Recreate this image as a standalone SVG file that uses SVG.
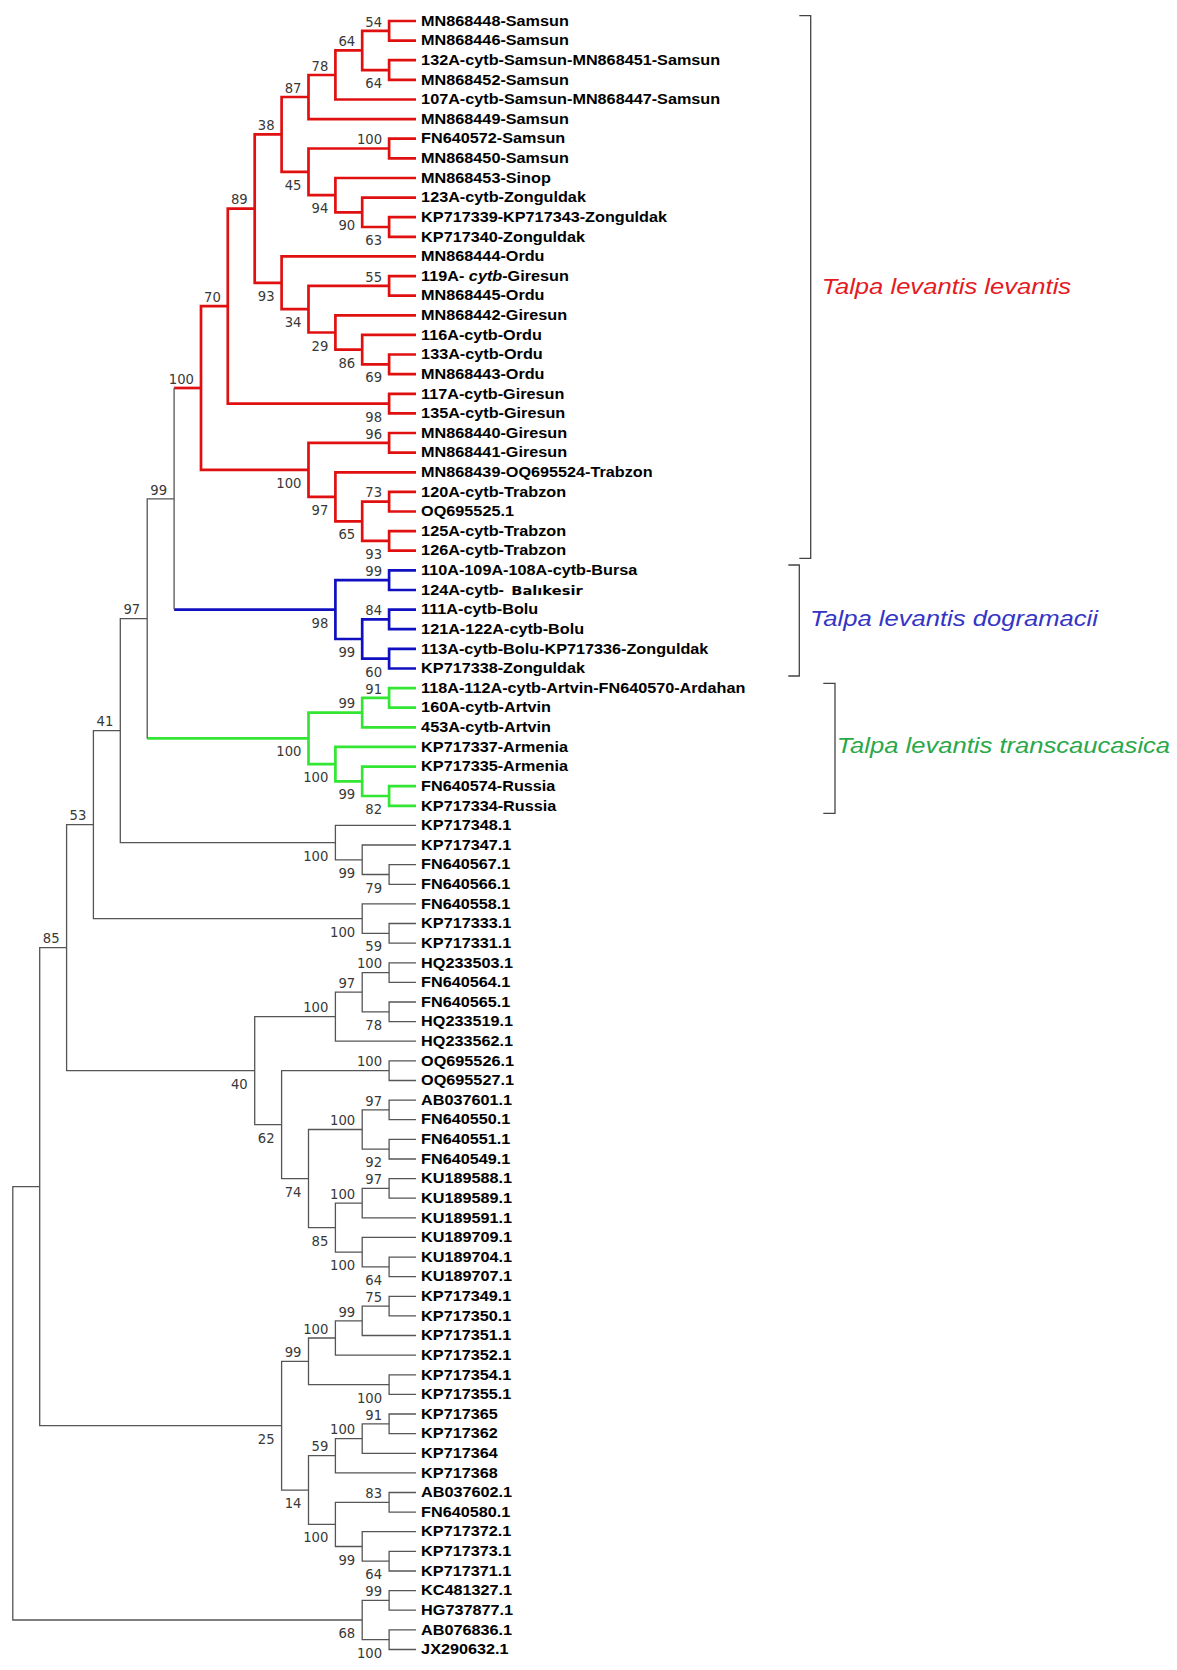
<svg xmlns="http://www.w3.org/2000/svg" width="1177" height="1670" viewBox="0 0 1177 1670">
<style>
.r{stroke:#e01010;stroke-width:2.7;fill:none}
.b{stroke:#1010c0;stroke-width:2.7;fill:none}
.g{stroke:#33e633;stroke-width:2.7;fill:none}
.k{stroke:#555;stroke-width:1.3;fill:none}
.br{stroke:#444;stroke-width:1.3;fill:none}
.lf{font-family:"Liberation Sans",Arial,sans-serif;font-weight:bold;font-size:13.8px;fill:#000}
.bs{font-family:"DejaVu Sans",Verdana,sans-serif;font-size:13.2px;fill:#383838;text-anchor:end}
.cl{font-family:"Liberation Sans",Arial,sans-serif;font-style:italic;font-size:21.8px}
</style>
<rect width="1177" height="1670" fill="#fff"/>
<g id="connectors">
<g class="r">
<path d="M416 21H389.1V40.6H416"/>
<path d="M416 60.2H389.1V79.9H416"/>
<path d="M389.1 30.8H362.2V70.1H389.1"/>
<path d="M362.2 50.4H335.4V99.5H416"/>
<path d="M335.4 75H308.5V119.1H416"/>
<path d="M416 138.7H389.1V158.3H416"/>
<path d="M416 217.2H389.1V236.8H416"/>
<path d="M416 197.6H362.2V227H389.1"/>
<path d="M416 178H335.4V212.3H362.2"/>
<path d="M389.1 148.5H308.5V195.1H335.4"/>
<path d="M308.5 97H281.6V171.8H308.5"/>
<path d="M416 276.1H389.1V295.7H416"/>
<path d="M416 354.5H389.1V374.2H416"/>
<path d="M416 334.9H362.2V364.4H389.1"/>
<path d="M416 315.3H335.4V349.6H362.2"/>
<path d="M389.1 285.9H308.5V332.5H335.4"/>
<path d="M416 256.4H281.6V309.2H308.5"/>
<path d="M281.6 134.4H254.7V282.8H281.6"/>
<path d="M416 393.8H389.1V413.4H416"/>
<path d="M254.7 208.6H227.8V403.6H389.1"/>
<path d="M416 433H389.1V452.6H416"/>
<path d="M416 491.9H389.1V511.5H416"/>
<path d="M416 531.1H389.1V550.7H416"/>
<path d="M389.1 501.7H362.2V540.9H389.1"/>
<path d="M416 472.3H335.4V521.3H362.2"/>
<path d="M389.1 442.8H308.5V496.8H335.4"/>
<path d="M227.8 306.1H201V469.8H308.5"/>
<path d="M174.1 388H201"/>
</g>
<g class="b">
<path d="M416 570.4H389.1V590H416"/>
<path d="M416 609.6H389.1V629.2H416"/>
<path d="M416 648.8H389.1V668.5H416"/>
<path d="M389.1 619.4H362.2V658.7H389.1"/>
<path d="M389.1 580.2H335.4V639H362.2"/>
<path d="M174.1 609.6H335.4"/>
</g>
<g class="g">
<path d="M416 688.1H389.1V707.7H416"/>
<path d="M389.1 697.9H362.2V727.3H416"/>
<path d="M416 786.2H389.1V805.8H416"/>
<path d="M416 766.6H362.2V796H389.1"/>
<path d="M416 746.9H335.4V781.3H362.2"/>
<path d="M362.2 712.6H308.5V764.1H335.4"/>
<path d="M147.2 738.4H308.5"/>
</g>
<g class="k">
<path d="M174.1 388V609.6"/>
<path d="M174.1 498.8H147.2V738.4"/>
<path d="M416 864.7H389.1V884.3H416"/>
<path d="M416 845H362.2V874.5H389.1"/>
<path d="M416 825.4H335.4V859.8H362.2"/>
<path d="M147.2 618.6H120.3V842.6H335.4"/>
<path d="M416 923.5H389.1V943.1H416"/>
<path d="M416 903.9H362.2V933.3H389.1"/>
<path d="M120.3 730.6H93.4V918.6H362.2"/>
<path d="M416 962.8H389.1V982.4H416"/>
<path d="M416 1002H389.1V1021.6H416"/>
<path d="M389.1 972.6H362.2V1011.8H389.1"/>
<path d="M362.2 992.2H335.4V1041.2H416"/>
<path d="M416 1060.9H389.1V1080.5H416"/>
<path d="M416 1100.1H389.1V1119.7H416"/>
<path d="M416 1139.3H389.1V1159H416"/>
<path d="M389.1 1109.9H362.2V1149.2H389.1"/>
<path d="M416 1178.6H389.1V1198.2H416"/>
<path d="M389.1 1188.4H362.2V1217.8H416"/>
<path d="M416 1257.1H389.1V1276.7H416"/>
<path d="M416 1237.4H362.2V1266.9H389.1"/>
<path d="M362.2 1203.1H335.4V1252.2H362.2"/>
<path d="M362.2 1129.5H308.5V1227.6H335.4"/>
<path d="M389.1 1070.7H281.6V1178.6H308.5"/>
<path d="M335.4 1016.7H254.7V1124.6H281.6"/>
<path d="M93.4 824.6H66.6V1070.7H254.7"/>
<path d="M416 1296.3H389.1V1315.9H416"/>
<path d="M389.1 1306.1H362.2V1335.5H416"/>
<path d="M362.2 1320.8H335.4V1355.2H416"/>
<path d="M416 1374.8H389.1V1394.4H416"/>
<path d="M335.4 1338H308.5V1384.6H389.1"/>
<path d="M416 1414H389.1V1433.6H416"/>
<path d="M389.1 1423.8H362.2V1453.3H416"/>
<path d="M362.2 1438.6H335.4V1472.9H416"/>
<path d="M416 1492.5H389.1V1512.1H416"/>
<path d="M416 1551.4H389.1V1571H416"/>
<path d="M416 1531.7H362.2V1561.2H389.1"/>
<path d="M389.1 1502.3H335.4V1546.5H362.2"/>
<path d="M335.4 1455.7H308.5V1524.4H335.4"/>
<path d="M308.5 1361.3H281.6V1490.1H308.5"/>
<path d="M66.6 947.6H39.7V1425.7H281.6"/>
<path d="M416 1590.6H389.1V1610.2H416"/>
<path d="M416 1629.8H389.1V1649.5H416"/>
<path d="M389.1 1600.4H362.2V1639.7H389.1"/>
<path d="M39.7 1186.7H12.8V1620H362.2"/>
</g>
<g class="br">
<path d="M799.3 15.7H810.7V558.3H799.3"/>
<path d="M788.3 565H799.3V676H788.3"/>
<path d="M823.3 683.3H835V813.3H823.3"/>
</g>
</g>
<g id="leaves" transform="scale(1.175 1)" class="lf">
<g id="n1"><text x="358.4" y="25.8">MN868448-Samsun</text></g>
<g id="n2"><text x="358.4" y="45.4">MN868446-Samsun</text></g>
<g id="n3"><text x="358.4" y="65">132A-cytb-Samsun-MN868451-Samsun</text></g>
<g id="n4"><text x="358.4" y="84.7">MN868452-Samsun</text></g>
<g id="n5"><text x="358.4" y="104.3">107A-cytb-Samsun-MN868447-Samsun</text></g>
<g id="n6"><text x="358.4" y="123.9">MN868449-Samsun</text></g>
<g id="n7"><text x="358.4" y="143.5">FN640572-Samsun</text></g>
<g id="n8"><text x="358.4" y="163.1">MN868450-Samsun</text></g>
<g id="n9"><text x="358.4" y="182.8">MN868453-Sinop</text></g>
<g id="n10"><text x="358.4" y="202.4">123A-cytb-Zonguldak</text></g>
<g id="n11"><text x="358.4" y="222">KP717339-KP717343-Zonguldak</text></g>
<g id="n12"><text x="358.4" y="241.6">KP717340-Zonguldak</text></g>
<g id="n13"><text x="358.4" y="261.2">MN868444-Ordu</text></g>
<g id="n14"><text x="358.4" y="280.9">119A- <tspan font-style="italic">cytb</tspan>-Giresun</text></g>
<g id="n15"><text x="358.4" y="300.5">MN868445-Ordu</text></g>
<g id="n16"><text x="358.4" y="320.1">MN868442-Giresun</text></g>
<g id="n17"><text x="358.4" y="339.7">116A-cytb-Ordu</text></g>
<g id="n18"><text x="358.4" y="359.3">133A-cytb-Ordu</text></g>
<g id="n19"><text x="358.4" y="379">MN868443-Ordu</text></g>
<g id="n20"><text x="358.4" y="398.6">117A-cytb-Giresun</text></g>
<g id="n21"><text x="358.4" y="418.2">135A-cytb-Giresun</text></g>
<g id="n22"><text x="358.4" y="437.8">MN868440-Giresun</text></g>
<g id="n23"><text x="358.4" y="457.4">MN868441-Giresun</text></g>
<g id="n24"><text x="358.4" y="477.1">MN868439-OQ695524-Trabzon</text></g>
<g id="n25"><text x="358.4" y="496.7">120A-cytb-Trabzon</text></g>
<g id="n26"><text x="358.4" y="516.3">OQ695525.1</text></g>
<g id="n27"><text x="358.4" y="535.9">125A-cytb-Trabzon</text></g>
<g id="n28"><text x="358.4" y="555.5">126A-cytb-Trabzon</text></g>
<g id="n29"><text x="358.4" y="575.2">110A-109A-108A-cytb-Bursa</text></g>
<g id="n30"><text x="358.4" y="594.8">124A-cytb- <tspan x="435.1" font-family="DejaVu Sans, sans-serif" font-size="12.5px">Balıkesir</tspan></text></g>
<g id="n31"><text x="358.4" y="614.4">111A-cytb-Bolu</text></g>
<g id="n32"><text x="358.4" y="634">121A-122A-cytb-Bolu</text></g>
<g id="n33"><text x="358.4" y="653.6">113A-cytb-Bolu-KP717336-Zonguldak</text></g>
<g id="n34"><text x="358.4" y="673.3">KP717338-Zonguldak</text></g>
<g id="n35"><text x="358.4" y="692.9">118A-112A-cytb-Artvin-FN640570-Ardahan</text></g>
<g id="n36"><text x="358.4" y="712.5">160A-cytb-Artvin</text></g>
<g id="n37"><text x="358.4" y="732.1">453A-cytb-Artvin</text></g>
<g id="n38"><text x="358.4" y="751.7">KP717337-Armenia</text></g>
<g id="n39"><text x="358.4" y="771.4">KP717335-Armenia</text></g>
<g id="n40"><text x="358.4" y="791">FN640574-Russia</text></g>
<g id="n41"><text x="358.4" y="810.6">KP717334-Russia</text></g>
<g id="n42"><text x="358.4" y="830.2">KP717348.1</text></g>
<g id="n43"><text x="358.4" y="849.8">KP717347.1</text></g>
<g id="n44"><text x="358.4" y="869.5">FN640567.1</text></g>
<g id="n45"><text x="358.4" y="889.1">FN640566.1</text></g>
<g id="n46"><text x="358.4" y="908.7">FN640558.1</text></g>
<g id="n47"><text x="358.4" y="928.3">KP717333.1</text></g>
<g id="n48"><text x="358.4" y="947.9">KP717331.1</text></g>
<g id="n49"><text x="358.4" y="967.6">HQ233503.1</text></g>
<g id="n50"><text x="358.4" y="987.2">FN640564.1</text></g>
<g id="n51"><text x="358.4" y="1006.8">FN640565.1</text></g>
<g id="n52"><text x="358.4" y="1026.4">HQ233519.1</text></g>
<g id="n53"><text x="358.4" y="1046">HQ233562.1</text></g>
<g id="n54"><text x="358.4" y="1065.7">OQ695526.1</text></g>
<g id="n55"><text x="358.4" y="1085.3">OQ695527.1</text></g>
<g id="n56"><text x="358.4" y="1104.9">AB037601.1</text></g>
<g id="n57"><text x="358.4" y="1124.5">FN640550.1</text></g>
<g id="n58"><text x="358.4" y="1144.1">FN640551.1</text></g>
<g id="n59"><text x="358.4" y="1163.8">FN640549.1</text></g>
<g id="n60"><text x="358.4" y="1183.4">KU189588.1</text></g>
<g id="n61"><text x="358.4" y="1203">KU189589.1</text></g>
<g id="n62"><text x="358.4" y="1222.6">KU189591.1</text></g>
<g id="n63"><text x="358.4" y="1242.2">KU189709.1</text></g>
<g id="n64"><text x="358.4" y="1261.9">KU189704.1</text></g>
<g id="n65"><text x="358.4" y="1281.5">KU189707.1</text></g>
<g id="n66"><text x="358.4" y="1301.1">KP717349.1</text></g>
<g id="n67"><text x="358.4" y="1320.7">KP717350.1</text></g>
<g id="n68"><text x="358.4" y="1340.3">KP717351.1</text></g>
<g id="n69"><text x="358.4" y="1360">KP717352.1</text></g>
<g id="n70"><text x="358.4" y="1379.6">KP717354.1</text></g>
<g id="n71"><text x="358.4" y="1399.2">KP717355.1</text></g>
<g id="n72"><text x="358.4" y="1418.8">KP717365</text></g>
<g id="n73"><text x="358.4" y="1438.4">KP717362</text></g>
<g id="n74"><text x="358.4" y="1458.1">KP717364</text></g>
<g id="n75"><text x="358.4" y="1477.7">KP717368</text></g>
<g id="n76"><text x="358.4" y="1497.3">AB037602.1</text></g>
<g id="n77"><text x="358.4" y="1516.9">FN640580.1</text></g>
<g id="n78"><text x="358.4" y="1536.5">KP717372.1</text></g>
<g id="n79"><text x="358.4" y="1556.2">KP717373.1</text></g>
<g id="n80"><text x="358.4" y="1575.8">KP717371.1</text></g>
<g id="n81"><text x="358.4" y="1595.4">KC481327.1</text></g>
<g id="n82"><text x="358.4" y="1615">HG737877.1</text></g>
<g id="n83"><text x="358.4" y="1634.6">AB076836.1</text></g>
<g id="n84"><text x="358.4" y="1654.3">JX290632.1</text></g>
</g>
<g id="support" class="bs">
<text x="382.1" y="26.5">54</text>
<text x="382.1" y="88.1">64</text>
<text x="355.2" y="46.1">64</text>
<text x="328.4" y="70.7">78</text>
<text x="301.5" y="92.7">87</text>
<text x="382.1" y="144.2">100</text>
<text x="382.1" y="245">63</text>
<text x="355.2" y="230.3">90</text>
<text x="328.4" y="213.1">94</text>
<text x="301.5" y="189.8">45</text>
<text x="274.6" y="130.1">38</text>
<text x="247.7" y="204.3">89</text>
<text x="274.6" y="300.8">93</text>
<text x="301.5" y="327.2">34</text>
<text x="382.1" y="281.6">55</text>
<text x="328.4" y="350.5">29</text>
<text x="355.2" y="367.6">86</text>
<text x="382.1" y="382.4">69</text>
<text x="382.1" y="421.6">98</text>
<text x="220.8" y="301.8">70</text>
<text x="382.1" y="438.5">96</text>
<text x="301.5" y="487.8">100</text>
<text x="328.4" y="514.8">97</text>
<text x="355.2" y="539.3">65</text>
<text x="382.1" y="497.4">73</text>
<text x="382.1" y="558.9">93</text>
<text x="194" y="383.7">100</text>
<text x="167.1" y="494.5">99</text>
<text x="328.4" y="627.6">98</text>
<text x="382.1" y="575.9">99</text>
<text x="355.2" y="657">99</text>
<text x="382.1" y="615.1">84</text>
<text x="382.1" y="676.7">60</text>
<text x="140.2" y="614.3">97</text>
<text x="301.5" y="756.4">100</text>
<text x="355.2" y="708.3">99</text>
<text x="382.1" y="693.6">91</text>
<text x="328.4" y="782.1">100</text>
<text x="355.2" y="799.3">99</text>
<text x="382.1" y="814">82</text>
<text x="113.3" y="726.3">41</text>
<text x="86.4" y="820.3">53</text>
<text x="59.6" y="943.3">85</text>
<text x="328.4" y="860.6">100</text>
<text x="355.2" y="877.8">99</text>
<text x="382.1" y="892.5">79</text>
<text x="355.2" y="936.6">100</text>
<text x="382.1" y="951.3">59</text>
<text x="247.7" y="1088.7">40</text>
<text x="328.4" y="1012.4">100</text>
<text x="355.2" y="987.9">97</text>
<text x="382.1" y="968.3">100</text>
<text x="382.1" y="1029.8">78</text>
<text x="274.6" y="1142.6">62</text>
<text x="382.1" y="1066.4">100</text>
<text x="301.5" y="1196.6">74</text>
<text x="355.2" y="1125.2">100</text>
<text x="382.1" y="1105.6">97</text>
<text x="382.1" y="1167.2">92</text>
<text x="328.4" y="1245.6">85</text>
<text x="355.2" y="1198.8">100</text>
<text x="382.1" y="1184.1">97</text>
<text x="355.2" y="1270.2">100</text>
<text x="382.1" y="1284.9">64</text>
<text x="274.6" y="1443.7">25</text>
<text x="301.5" y="1357">99</text>
<text x="328.4" y="1333.7">100</text>
<text x="355.2" y="1316.5">99</text>
<text x="382.1" y="1301.8">75</text>
<text x="382.1" y="1402.6">100</text>
<text x="301.5" y="1508.1">14</text>
<text x="328.4" y="1451.4">59</text>
<text x="355.2" y="1434.3">100</text>
<text x="382.1" y="1419.5">91</text>
<text x="328.4" y="1542.4">100</text>
<text x="382.1" y="1498">83</text>
<text x="355.2" y="1564.5">99</text>
<text x="382.1" y="1579.2">64</text>
<text x="355.2" y="1638">68</text>
<text x="382.1" y="1596.1">99</text>
<text x="382.1" y="1657.7">100</text>
</g>
<g id="clades" transform="scale(1.175 1)" class="cl">
<g id="clade-levantis"><text x="699.3" y="294" fill="#e31b23">Talpa levantis levantis</text></g>
<g id="clade-dogramacii"><text x="689.4" y="626" fill="#3535c5">Talpa levantis dogramacii</text></g>
<g id="clade-transcaucasica"><text x="712.1" y="753.3" fill="#2aa84a">Talpa levantis transcaucasica</text></g>
</g>
</svg>
